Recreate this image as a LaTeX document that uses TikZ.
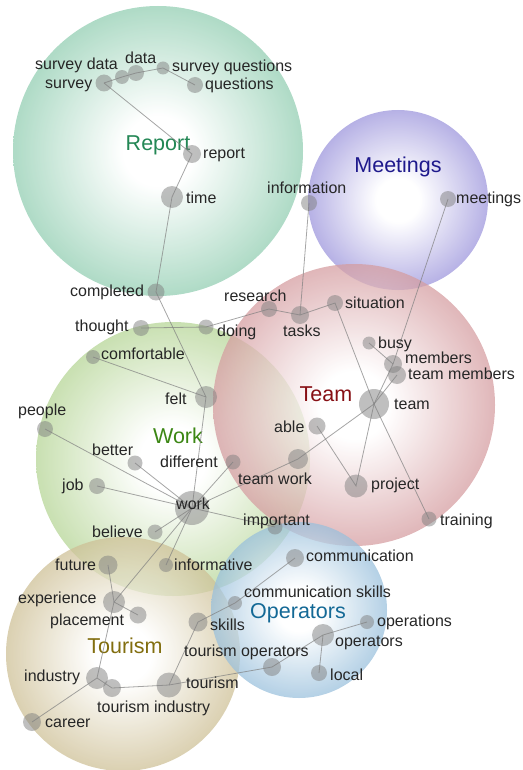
\documentclass[tikz,border=0pt]{standalone}
\usepackage{fontspec}
\setmainfont{Liberation Sans}

\definecolor{reportc}{RGB}{100,185,145}
\definecolor{meetingsc}{RGB}{115,105,205}
\definecolor{teamc}{RGB}{195,115,120}
\definecolor{workc}{RGB}{150,195,105}
\definecolor{tourismc}{RGB}{185,165,105}
\definecolor{operatorsc}{RGB}{110,165,205}

\definecolor{reportt}{RGB}{35,135,85}
\definecolor{meetingst}{RGB}{30,25,140}
\definecolor{teamt}{RGB}{135,15,20}
\definecolor{workt}{RGB}{60,135,20}
\definecolor{tourismt}{RGB}{130,110,15}
\definecolor{operatorst}{RGB}{20,105,150}

\colorlet{bubblec}{gray}
\pgfdeclareradialshading[bubblec]{bubble}{\pgfpointorigin}{color(0bp)=(white); color(6bp)=(white); color(25bp)=(bubblec!70!white); color(42bp)=(bubblec); color(50bp)=(bubblec)}

\tikzset{
  bubble/.style={shading=bubble, /utils/exec={\colorlet{bubblec}{#1}}, opacity=.74},
  dot/.style={circle, fill=gray, fill opacity=.5, inner sep=0pt, minimum size=#1},
  link/.style={draw=gray, line width=.8pt, opacity=.7},
  word/.style={font=\fontsize{16}{18}\selectfont, text=black!85, inner sep=0pt, anchor=west, text height=.72em, text depth=.2em, yshift=-2.5pt},
  theme/.style={font=\fontsize{21.5}{24}\selectfont, inner sep=0pt}
}

\begin{document}
\begin{tikzpicture}[x=1pt, y=-1pt]
\useasboundingbox (0,0) rectangle (522,770);

% themes
\shade [bubble=reportc] (158,151) circle (145);
\shade [bubble=meetingsc] (398,200) circle (90);
\shade [bubble=workc] (173,459) circle (137);
\shade [bubble=teamc] (354,405) circle (141);
\shade [bubble=tourismc] (123,654) circle (117);
\shade [bubble=operatorsc] (299,610) circle (88);

\node [theme, text=reportt] (reportlbl) at (158,145) {Report};
\node [theme, text=meetingst] (meetingslbl) at (398,167) {Meetings};
\node [theme, text=teamt] (teamlbl) at (326,394) {Team};
\node [theme, text=workt] (worklbl) at (178,436) {Work};
\node [theme, text=tourismt] (tourismlbl) at (125,646) {Tourism};
\node [theme, text=operatorst] (operatorslbl) at (298,613) {Operators};

% concepts
\node [dot=17] (survey) at (104,83) {};
\node [dot=14] (surveydata) at (122,77) {};
\node [dot=16] (data) at (136,73) {};
\node [dot=13] (surveyquestions) at (163,68) {};
\node [dot=16] (questions) at (195,85) {};
\node [dot=18] (report) at (192,154) {};
\node [dot=22] (time) at (172,197) {};
\node [dot=17] (completed) at (156,292) {};
\node [dot=16] (thought) at (141,328) {};
\node [dot=15] (doing) at (206,327) {};
\node [dot=16] (research) at (269,309) {};
\node [dot=18] (tasks) at (300,315) {};
\node [dot=16] (situation) at (335,303) {};
\node [dot=16] (information) at (309,203) {};
\node [dot=16] (meetings) at (448,199) {};
\node [dot=13] (busy) at (369,343) {};
\node [dot=18] (members) at (393,364) {};
\node [dot=18] (teammembers) at (397,375) {};
\node [dot=30] (team) at (374,404) {};
\node [dot=17] (able) at (317,426) {};
\node [dot=20] (teamwork) at (298,459) {};
\node [dot=15] (different) at (233,462) {};
\node [dot=23] (project) at (356,486) {};
\node [dot=15] (training) at (429,519) {};
\node [dot=22] (felt) at (206,397) {};
\node [dot=14] (comfortable) at (93,357) {};
\node [dot=16] (people) at (45,429) {};
\node [dot=15] (better) at (135,463) {};
\node [dot=16] (job) at (97,486) {};
\node [dot=34] (work) at (192,508) {};
\node [dot=15] (believe) at (155,532) {};
\node [dot=15] (important) at (275,527) {};
\node [dot=19] (future) at (108,565) {};
\node [dot=14] (informative) at (166,565) {};
\node [dot=22] (experience) at (114,602) {};
\node [dot=17] (placement) at (138,615) {};
\node [dot=19] (skills) at (198,622) {};
\node [dot=22] (industry) at (97,678) {};
\node [dot=18] (tourismindustry) at (112,688) {};
\node [dot=25] (tourism) at (169,685) {};
\node [dot=18] (career) at (32,722) {};
\node [dot=18] (communication) at (295,558) {};
\node [dot=14] (communicationskills) at (235,603) {};
\node [dot=14] (operations) at (367,622) {};
\node [dot=22] (operators) at (323,635) {};
\node [dot=18] (tourismoperators) at (272,667) {};
\node [dot=16] (local) at (319,673) {};

% links
\draw [link] (survey.center) -- (surveydata.center) -- (data.center) -- (surveyquestions.center) -- (questions.center);
\draw [link] (survey.center) -- (report.center) -- (time.center) -- (completed.center) -- (felt.center) -- (work.center);
\draw [link] (comfortable.center) -- (felt.center);
\draw [link] (thought.center) -- (doing.center) -- (research.center) -- (tasks.center) -- (situation.center) -- (team.center) -- (training.center);
\draw [link] (information.center) -- (tasks.center);
\draw [link] (meetings.center) -- (members.center) -- (team.center);
\draw [link] (busy.center) -- (members.center);
\draw [link] (teammembers.center) -- (team.center);
\draw [link] (team.center) -- (teamwork.center) -- (work.center);
\draw [link] (team.center) -- (project.center) -- (able.center);
\path [link] (work.center) edge (different.center)
                           edge (important.center)
                           edge (people.center)
                           edge (better.center)
                           edge (job.center)
                           edge (believe.center)
                           edge (informative.center)
                           edge (experience.center);
\draw [link] (future.center) -- (experience.center) -- (placement.center);
\draw [link] (experience.center) -- (industry.center) -- (career.center);
\draw [link] (industry.center) -- (tourismindustry.center) -- (tourism.center) -- (skills.center) -- (communicationskills.center) -- (communication.center);
\draw [link] (tourism.center) -- (tourismoperators.center) -- (operators.center) -- (operations.center);
\draw [link] (operators.center) -- (local.center);

% words
\node [word] (survey-w) at (45,83) {survey};
\node [word] (surveydata-w) at (35,64) {survey data};
\node [word] (data-w) at (125,58) {data};
\node [word] (surveyquestions-w) at (172,66) {survey questions};
\node [word] (questions-w) at (205,84) {questions};
\node [word] (report-w) at (203,153) {report};
\node [word] (time-w) at (186,198) {time};
\node [word] (completed-w) at (70,291) {completed};
\node [word] (thought-w) at (75,326) {thought};
\node [word] (doing-w) at (217,331) {doing};
\node [word] (research-w) at (224,296) {research};
\node [word] (tasks-w) at (283,331) {tasks};
\node [word] (situation-w) at (345,303) {situation};
\node [word] (information-w) at (267,188) {information};
\node [word] (meetings-w) at (456,198) {meetings};
\node [word] (busy-w) at (378,343) {busy};
\node [word] (members-w) at (405,358) {members};
\node [word] (teammembers-w) at (408,374) {team members};
\node [word] (team-w) at (394,404) {team};
\node [word] (able-w) at (274,427) {able};
\node [word] (teamwork-w) at (238,479) {team work};
\node [word] (different-w) at (160,462) {different};
\node [word] (project-w) at (371,484) {project};
\node [word] (training-w) at (440,520) {training};
\node [word] (felt-w) at (165,399) {felt};
\node [word] (comfortable-w) at (101,354) {comfortable};
\node [word] (people-w) at (18,410) {people};
\node [word] (better-w) at (92,450) {better};
\node [word] (job-w) at (62,485) {job};
\node [word] (work-w) at (176,504) {work};
\node [word] (believe-w) at (92,532) {believe};
\node [word] (important-w) at (243,520) {important};
\node [word] (future-w) at (55,565) {future};
\node [word] (informative-w) at (174,565) {informative};
\node [word] (experience-w) at (18,598) {experience};
\node [word] (placement-w) at (50,620) {placement};
\node [word] (skills-w) at (210,625) {skills};
\node [word] (communication-w) at (306,556) {communication};
\node [word] (communicationskills-w) at (244,592) {communication skills};
\node [word] (operations-w) at (377,621) {operations};
\node [word] (operators-w) at (335,641) {operators};
\node [word] (tourismoperators-w) at (184,651) {tourism operators};
\node [word] (local-w) at (330,675) {local};
\node [word] (tourism-w) at (186,683) {tourism};
\node [word] (industry-w) at (24,676) {industry};
\node [word] (tourismindustry-w) at (97,707) {tourism industry};
\node [word] (career-w) at (45,722) {career};

\end{tikzpicture}
\end{document}
